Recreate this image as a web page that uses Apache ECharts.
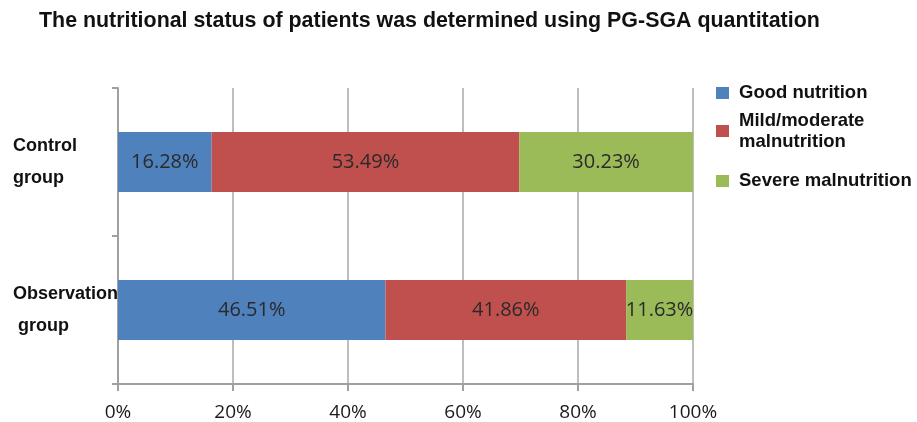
<!DOCTYPE html>
<html>
<head>
<meta charset="utf-8">
<script src="https://cdn.jsdelivr.net/npm/echarts@6/dist/echarts.min.js"></script>
<style>
  html, body { margin: 0; padding: 0; background: #fff; }
  #chart { width: 917px; height: 422px; }
</style>
</head>
<body>
<div id="chart"></div>
<script>
// data
const groups = ["Control\ngroup", "Observation\n group"];
const seriesNames = ["Good nutrition", "Mild/moderate\nmalnutrition", "Severe malnutrition"];
const goodNutrition = [16.28, 46.51];
const mildModerate = [53.49, 41.86];
const severe = [30.23, 11.63];
const xTicks = [0, 20, 40, 60, 80, 100];

const colors = ["#4f81bd", "#c0504d", "#9bbb59"];
const values = [goodNutrition, mildModerate, severe];

const myChart = echarts.init(document.getElementById("chart"));

const legendText = {
  fontFamily: "Liberation Sans",
  fontWeight: "bold",
  fontSize: 18.5,
  color: "#111",
  lineHeight: 21,
  padding: [0, 0, 0, 5],
};

myChart.setOption({
  animation: false,
  title: {
    text: "The nutritional status of patients was determined using PG-SGA quantitation",
    left: 39,
    top: 11,
    padding: 0,
    textStyle: {
      fontFamily: "Liberation Sans",
      fontWeight: "bold",
      fontSize: 21.4,
      color: "#111",
    },
  },
  legend: [
    {
      data: [seriesNames[0], seriesNames[1]],
      orient: "vertical",
      left: 716,
      top: 82.5,
      padding: 0,
      itemGap: 6.5,
      itemWidth: 13,
      itemHeight: 12,
      icon: "rect",
      selectedMode: false,
      textStyle: legendText,
    },
    {
      data: [seriesNames[2]],
      orient: "vertical",
      left: 716,
      top: 170.5,
      padding: 0,
      itemWidth: 13,
      itemHeight: 12,
      icon: "rect",
      selectedMode: false,
      textStyle: legendText,
    },
  ],
  grid: {
    left: 118,
    right: 224,
    top: 88,
    bottom: 38,
    containLabel: false,
  },
  xAxis: {
    type: "value",
    min: 0,
    max: 100,
    interval: 20,
    axisLine: { show: true, lineStyle: { color: "#a0a0a0", width: 2 } },
    axisTick: { show: true, length: 7, lineStyle: { color: "#a0a0a0", width: 2 } },
    splitLine: { show: true, lineStyle: { color: "#a8a8a8", width: 1.5 } },
    axisLabel: {
      margin: 19,
      fontFamily: "Open Sans",
      fontSize: 19,
      color: "#1a1a1a",
      formatter: (v) => (xTicks.includes(v) ? v + "%" : ""),
    },
  },
  yAxis: {
    type: "category",
    data: groups,
    inverse: true,
    axisLine: { show: true, lineStyle: { color: "#a0a0a0", width: 2 } },
    axisTick: { show: true, length: 6, lineStyle: { color: "#a0a0a0", width: 2 } },
    axisLabel: {
      align: "left",
      margin: 105,
      fontFamily: "Liberation Sans",
      fontWeight: "bold",
      fontSize: 18,
      lineHeight: 32,
      color: "#111",
    },
  },
  series: seriesNames.map((name, i) => ({
    name: name,
    type: "bar",
    stack: "total",
    barWidth: 60,
    data: values[i],
    itemStyle: { color: colors[i] },
    label: {
      show: true,
      position: "inside",
      fontFamily: "Open Sans",
      fontSize: 20,
      color: "#2a2a2a",
      formatter: (p) => p.value.toFixed(2) + "%",
    },
  })),
});
</script>
</body>
</html>
